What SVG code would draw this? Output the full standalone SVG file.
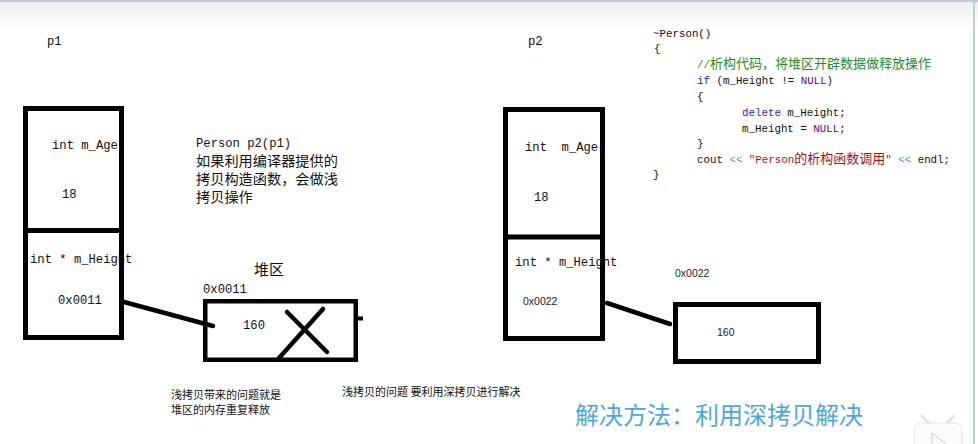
<svg xmlns="http://www.w3.org/2000/svg" width="978" height="444" viewBox="0 0 978 444">
<defs>
<linearGradient id="topbar" x1="0" y1="0" x2="0" y2="1">
<stop offset="0" stop-color="#ececee"/>
<stop offset="1" stop-color="#ffffff"/>
</linearGradient>
</defs>
<style>
.box{fill:none;stroke:#000;stroke-width:5}
.conn{stroke:#000;stroke-width:4.5;stroke-linecap:round;fill:none}
.mono{font-family:"Liberation Mono","DejaVu Sans Mono",monospace;fill:#111}
.m12{font-size:12.2px}
.cjk{font-family:"Noto Sans CJK SC","Noto Sans",sans-serif;fill:#111}
.small{font-family:"Liberation Sans",Arial,sans-serif;font-size:10.5px;fill:#222}
.code{font-family:"Liberation Mono","DejaVu Sans Mono",monospace;font-size:10.8px;fill:#111}
.zh{font-family:"Noto Sans CJK SC",sans-serif;font-size:13px}
.kw{fill:#1f1fd0}
.nl{fill:#6f008a}
.op{fill:#4a9ab0}
.str{fill:#a31515}
.cm{fill:#2a8a2a}
</style>
<rect width="978" height="444" fill="#ffffff"/>
<rect x="0" y="0" width="978" height="28" fill="url(#topbar)"/>
<rect x="0" y="0" width="978" height="2" fill="#c6c9d1"/>
<rect x="973" y="2" width="2" height="442" fill="#c6cad3"/>

<g id="p1-label"><text class="mono m12" x="47" y="45">p1</text></g>
<g id="p2-label"><text class="mono m12" x="528" y="45">p2</text></g>

<g id="p1-object">
<rect class="box" x="25.5" y="108.5" width="96" height="229"/>
<line x1="23" y1="230.5" x2="124" y2="230.5" stroke="#000" stroke-width="5"/>
<text class="mono m12" x="52" y="149">int m_Age</text>
<text class="mono m12" x="62" y="198">18</text>
<text class="mono m12" x="30" y="263">int * m_Height</text>
<text class="mono m12" x="58" y="304">0x0011</text>
</g>

<g id="p2-object">
<rect class="box" x="505.5" y="109.5" width="97" height="229"/>
<line x1="503" y1="237" x2="605" y2="237" stroke="#000" stroke-width="5"/>
<text class="mono m12" x="525" y="151" xml:space="preserve">int  m_Age</text>
<text class="mono m12" x="534" y="201">18</text>
<text class="mono m12" x="515" y="266">int * m_Height</text>
<text class="small" x="523" y="305">0x0022</text>
</g>

<g id="copy-note">
<text class="mono m12" x="196" y="147">Person p2(p1)</text>
<text class="cjk" font-size="14.2"><tspan x="196" y="166">如果利用编译器提供的</tspan><tspan x="196" y="184">拷贝构造函数，会做浅</tspan><tspan x="196" y="202">拷贝操作</tspan></text>
</g>

<g id="heap1">
<text class="cjk" x="254" y="275" font-size="15">堆区</text>
<text class="mono m12" x="203" y="293">0x0011</text>
<rect x="205.25" y="301.25" width="150.5" height="58.5" fill="none" stroke="#000" stroke-width="4.5"/>
<rect x="358" y="316.5" width="5" height="4" fill="#000"/>
<text class="mono m12" x="243" y="329">160</text>
<line x1="287" y1="312" x2="327" y2="352" stroke="#000" stroke-width="4.5" stroke-linecap="round"/>
<line x1="323" y1="309" x2="279" y2="358" stroke="#000" stroke-width="4.5" stroke-linecap="round"/>
</g>

<g id="heap2">
<text class="small" x="675" y="277">0x0022</text>
<rect class="box" x="675.5" y="304.5" width="143" height="57"/>
<text class="small" x="717" y="336">160</text>
</g>

<g id="connectors">
<line class="conn" x1="124" y1="302" x2="213" y2="326"/>
<line class="conn" x1="607" y1="303" x2="670" y2="324"/>
</g>

<g id="destructor-code">
<text class="code" x="653" y="37">~Person()</text>
<text class="code" x="654" y="52">{</text>
<text class="code cm" x="697" y="68">//<tspan class="zh">析构代码，将堆区开辟数据做释放操作</tspan></text>
<text class="code" x="697" y="84"><tspan class="kw">if</tspan> (m_Height != <tspan class="nl">NULL</tspan>)</text>
<text class="code" x="697" y="100">{</text>
<text class="code" x="742" y="116"><tspan class="kw">delete</tspan> m_Height;</text>
<text class="code" x="742" y="132">m_Height = <tspan class="nl">NULL</tspan>;</text>
<text class="code" x="697" y="147">}</text>
<text class="code" x="697" y="163">cout <tspan class="op">&lt;&lt;</tspan> <tspan class="str">"Person<tspan class="zh">的析构函数调用</tspan>"</tspan> <tspan class="op">&lt;&lt;</tspan> endl;</text>
<text class="code" x="653" y="178">}</text>
</g>

<g id="problem-notes">
<text class="cjk" font-size="11"><tspan x="171" y="399">浅拷贝带来的问题就是</tspan><tspan x="171" y="414">堆区的内存重复释放</tspan></text>
<text class="cjk" x="342" y="396" font-size="11" xml:space="preserve">浅拷贝的问题 要利用深拷贝进行解决</text>
</g>

<g id="solution">
<text class="cjk" x="575" y="424" font-size="24" style="fill:#4fa5e4">解决方法：利用深拷贝解决</text>
</g>

<g id="watermark" opacity="0.9">
<line x1="922" y1="416" x2="930" y2="424" stroke="#e2e2e2" stroke-width="3" stroke-linecap="round"/>
<line x1="954" y1="416" x2="946" y2="424" stroke="#e2e2e2" stroke-width="3" stroke-linecap="round"/>
<rect x="914" y="423" width="48" height="30" rx="7" fill="#fbfbfb" stroke="#e4e4e4" stroke-width="1.2"/>
<path d="M932 433 L932 446 M932 433 L946 444" stroke="#d6d6d6" stroke-width="1.5" fill="none"/>
</g>
</svg>
